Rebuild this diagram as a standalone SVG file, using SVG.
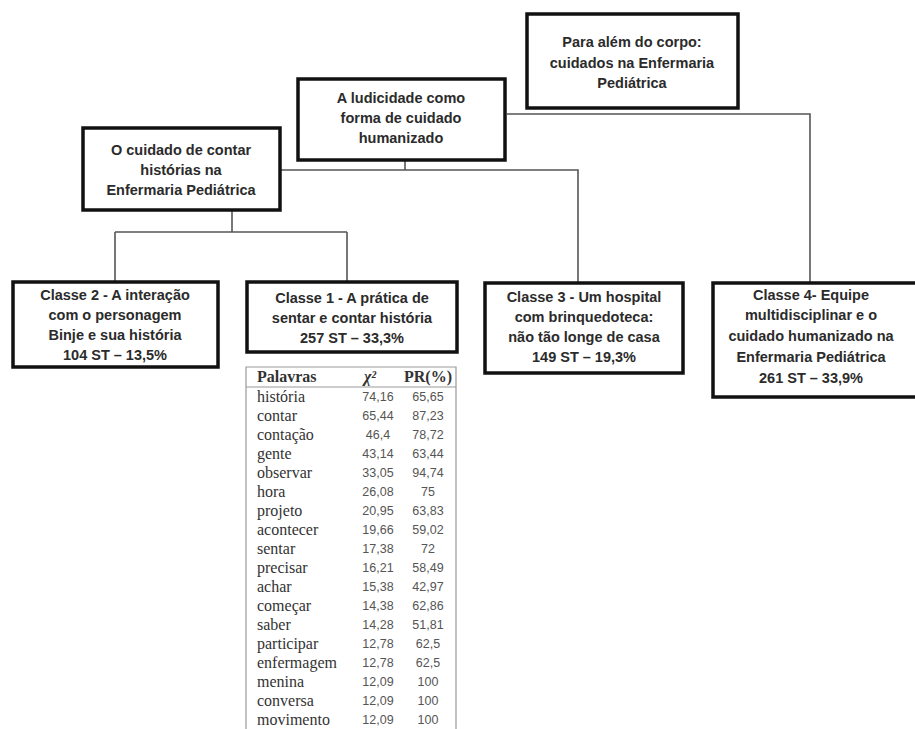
<svg xmlns="http://www.w3.org/2000/svg" width="915" height="729" viewBox="0 0 915 729">
<style>
.box{fill:#fff;stroke:#111;stroke-width:3.5}
.bt{font-family:"Liberation Sans",Arial,sans-serif;font-weight:bold;font-size:14.5px;fill:#2b2b2b;text-anchor:middle}
.con{fill:none;stroke:#555;stroke-width:1.6}
.tb{fill:none;stroke:#999;stroke-width:1.2}
.w{font-family:"Liberation Serif","Times New Roman",serif;font-size:16px;fill:#333}
.h{font-family:"Liberation Serif","Times New Roman",serif;font-size:16px;font-weight:bold;fill:#333}
.v{font-family:"Liberation Sans",Arial,sans-serif;font-size:12.5px;fill:#555;text-anchor:middle}
</style>
<rect width="915" height="729" fill="#fff"/>
<g id="connectors">
<path class="con" d="M507,114 H810 V283"/>
<path class="con" d="M405,160 V170"/>
<path class="con" d="M280,170 H578 V283"/>
<path class="con" d="M232,210 V232"/>
<path class="con" d="M115,232 H347"/>
<path class="con" d="M115,232 V282"/>
<path class="con" d="M347,232 V282"/>
</g>
<g id="n-para-alem">
<rect class="box" x="527" y="14" width="211" height="94"/>
<text class="bt" x="632" y="47">Para além do corpo:</text>
<text class="bt" x="632" y="68">cuidados na Enfermaria</text>
<text class="bt" x="632" y="88">Pediátrica</text>
</g>
<g id="n-ludicidade">
<rect class="box" x="298" y="79" width="207" height="81"/>
<text class="bt" x="401" y="103">A ludicidade  como</text>
<text class="bt" x="401" y="123">forma de cuidado</text>
<text class="bt" x="401" y="143">humanizado</text>
</g>
<g id="n-cuidado">
<rect class="box" x="83" y="128" width="197" height="82"/>
<text class="bt" x="181" y="155">O cuidado  de contar</text>
<text class="bt" x="181" y="175">histórias na</text>
<text class="bt" x="181" y="195">Enfermaria Pediátrica</text>
</g>
<g id="n-classe2">
<rect class="box" x="13" y="282" width="205" height="85"/>
<text class="bt" x="115" y="300">Classe 2 - A interação</text>
<text class="bt" x="115" y="320">com o personagem</text>
<text class="bt" x="115" y="340">Binje e sua história</text>
<text class="bt" x="115" y="360">104 ST – 13,5%</text>
</g>
<g id="n-classe1">
<rect class="box" x="247" y="282" width="210" height="70"/>
<text class="bt" x="352" y="303">Classe 1 - A prática de</text>
<text class="bt" x="352" y="323">sentar e contar história</text>
<text class="bt" x="352" y="343">257 ST – 33,3%</text>
</g>
<g id="n-classe3">
<rect class="box" x="485" y="283" width="198" height="90"/>
<text class="bt" x="584" y="302">Classe 3 - Um hospital</text>
<text class="bt" x="584" y="322">com brinquedoteca:</text>
<text class="bt" x="584" y="342">não tão longe de casa</text>
<text class="bt" x="584" y="362">149 ST – 19,3%</text>
</g>
<g id="n-classe4">
<rect class="box" x="713" y="283" width="206" height="114"/>
<text class="bt" x="811" y="300">Classe 4- Equipe</text>
<text class="bt" x="811" y="320">multidisciplinar  e o</text>
<text class="bt" x="811" y="341">cuidado humanizado na</text>
<text class="bt" x="811" y="362">Enfermaria Pediátrica</text>
<text class="bt" x="811" y="383">261 ST – 33,9%</text>
</g>
<g id="tabela">
<path class="tb" d="M246,740 V367 H456 V740"/>
<path class="tb" d="M246,387 H456"/>
<text class="h" x="257" y="382">Palavras</text>
<text class="h" x="370" y="382" text-anchor="middle" font-style="italic" font-weight="normal">χ²</text>
<text class="h" x="428" y="382" text-anchor="middle">PR(%)</text>
<g class="w">
<text x="257" y="402">história</text>
<text x="257" y="421">contar</text>
<text x="257" y="440">contação</text>
<text x="257" y="459">gente</text>
<text x="257" y="478">observar</text>
<text x="257" y="497">hora</text>
<text x="257" y="516">projeto</text>
<text x="257" y="535">acontecer</text>
<text x="257" y="554">sentar</text>
<text x="257" y="573">precisar</text>
<text x="257" y="592">achar</text>
<text x="257" y="611">começar</text>
<text x="257" y="630">saber</text>
<text x="257" y="649">participar</text>
<text x="257" y="668">enfermagem</text>
<text x="257" y="687">menina</text>
<text x="257" y="706">conversa</text>
<text x="257" y="725">movimento</text>
</g>
<g class="v">
<text x="378" y="401">74,16</text><text x="428" y="401">65,65</text>
<text x="378" y="420">65,44</text><text x="428" y="420">87,23</text>
<text x="378" y="439">46,4</text><text x="428" y="439">78,72</text>
<text x="378" y="458">43,14</text><text x="428" y="458">63,44</text>
<text x="378" y="477">33,05</text><text x="428" y="477">94,74</text>
<text x="378" y="496">26,08</text><text x="428" y="496">75</text>
<text x="378" y="515">20,95</text><text x="428" y="515">63,83</text>
<text x="378" y="534">19,66</text><text x="428" y="534">59,02</text>
<text x="378" y="553">17,38</text><text x="428" y="553">72</text>
<text x="378" y="572">16,21</text><text x="428" y="572">58,49</text>
<text x="378" y="591">15,38</text><text x="428" y="591">42,97</text>
<text x="378" y="610">14,38</text><text x="428" y="610">62,86</text>
<text x="378" y="629">14,28</text><text x="428" y="629">51,81</text>
<text x="378" y="648">12,78</text><text x="428" y="648">62,5</text>
<text x="378" y="667">12,78</text><text x="428" y="667">62,5</text>
<text x="378" y="686">12,09</text><text x="428" y="686">100</text>
<text x="378" y="705">12,09</text><text x="428" y="705">100</text>
<text x="378" y="724">12,09</text><text x="428" y="724">100</text>
</g>
</g>
</svg>
